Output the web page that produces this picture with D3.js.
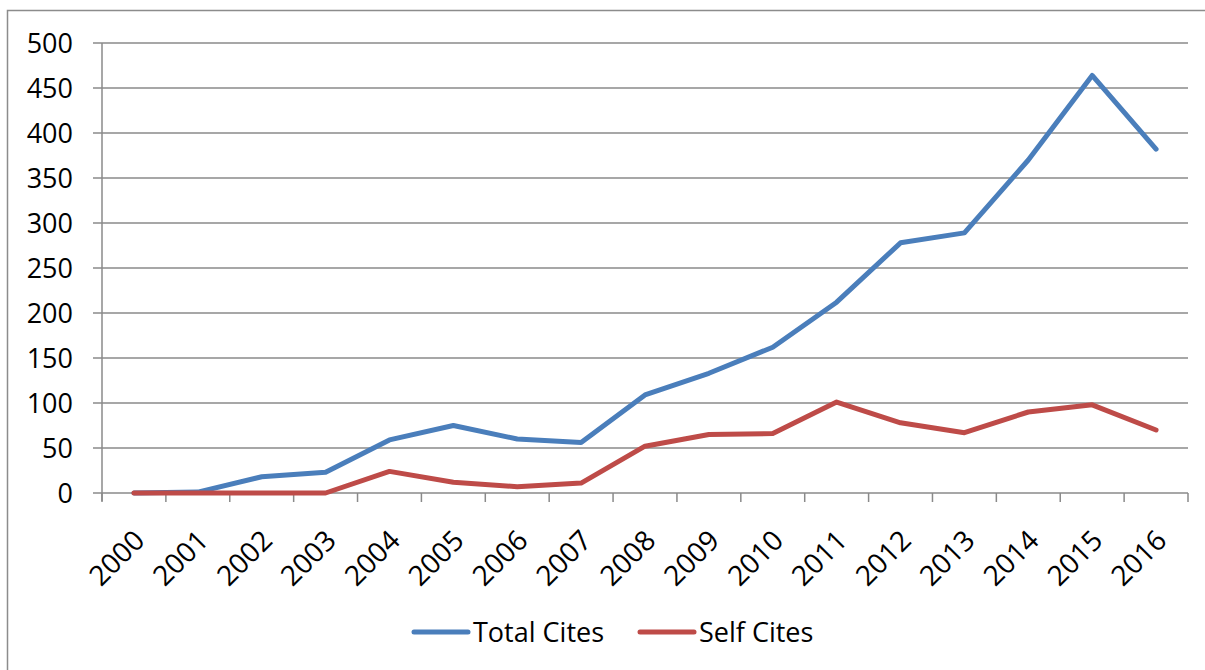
<!DOCTYPE html>
<html>
<head>
<meta charset="utf-8">
<script src="https://cdn.jsdelivr.net/npm/d3@7"></script>
<style>
  body { margin: 0; background: #fff; }
  svg text { font-family: "Open Sans", "Noto Sans", sans-serif; fill: #000; }
</style>
</head>
<body>
<script>
'use strict';

// data
const years = ['2000', '2001', '2002', '2003', '2004', '2005', '2006', '2007', '2008',
    '2009', '2010', '2011', '2012', '2013', '2014', '2015', '2016'];
const totalCites = [0, 1, 18, 23, 59, 75, 60, 56, 109, 133, 162, 212, 278, 289, 370, 464, 382];
const selfCites = [0, 0, 0, 0, 24, 12, 7, 11, 52, 65, 66, 101, 78, 67, 90, 98, 70];
const yTicks = [0, 50, 100, 150, 200, 250, 300, 350, 400, 450, 500];
const seriesNames = ['Total Cites', 'Self Cites'];
const seriesColors = ['#4A7EBB', '#BE4B48'];

(function () {
    const W = 1205, H = 670;
    const left = 102, right = 1188, top = 43, bottom = 493;
    const fontSize = '27px';

    const svg = d3.select('body').append('svg')
        .attr('width', W)
        .attr('height', H);

    // outer frame
    svg.append('rect')
        .attr('x', 7.5).attr('y', 10.5)
        .attr('width', W + 10).attr('height', H + 10)
        .attr('fill', 'none')
        .attr('stroke', '#8c8c8c')
        .attr('stroke-width', 1.5);

    const x = d3.scaleBand().domain(years).range([left, right]);
    const y = d3.scaleLinear().domain([0, 500]).range([bottom, top]);

    // gridlines
    svg.append('g')
        .selectAll('line')
        .data(yTicks)
        .enter()
        .append('line')
        .attr('x1', left - 9)
        .attr('x2', right)
        .attr('y1', d => y(d))
        .attr('y2', d => y(d))
        .attr('stroke', '#8a8a8a')
        .attr('stroke-width', 1.5);

    // y labels
    svg.append('g')
        .selectAll('text')
        .data(yTicks)
        .enter()
        .append('text')
        .attr('x', 73)
        .attr('y', d => y(d))
        .attr('dy', '0.36em')
        .attr('text-anchor', 'end')
        .style('font-size', fontSize)
        .text(d => d);

    // y axis line
    svg.append('line')
        .attr('x1', left).attr('x2', left)
        .attr('y1', top).attr('y2', bottom + 8)
        .attr('stroke', '#8a8a8a')
        .attr('stroke-width', 1.5);

    // x ticks at category boundaries
    const bounds = years.map(d => x(d)).concat([right]);
    svg.append('g')
        .selectAll('line')
        .data(bounds)
        .enter()
        .append('line')
        .attr('x1', d => d).attr('x2', d => d)
        .attr('y1', bottom).attr('y2', bottom + 9)
        .attr('stroke', '#8a8a8a')
        .attr('stroke-width', 1.5);

    // x labels, rotated
    svg.append('g')
        .selectAll('text')
        .data(years)
        .enter()
        .append('text')
        .attr('transform', d => 'translate(' + (x(d) + x.bandwidth() / 2 - 2) + ',' + (bottom + 35) + ') rotate(-45)')
        .attr('text-anchor', 'end')
        .attr('dy', '0.72em')
        .style('font-size', '28px')
        .text(d => d);

    // lines
    const line = d3.line()
        .x((d, i) => x(years[i]) + x.bandwidth() / 2)
        .y(d => y(d));

    [totalCites, selfCites].forEach(function (vals, k) {
        svg.append('path')
            .datum(vals)
            .attr('d', line)
            .attr('fill', 'none')
            .attr('stroke', seriesColors[k])
            .attr('stroke-width', 5)
            .attr('stroke-linejoin', 'round')
            .attr('stroke-linecap', 'round');
    });

    // legend
    const legendX = [414, 640];
    const legend = svg.append('g')
        .selectAll('g')
        .data(seriesNames)
        .enter()
        .append('g')
        .attr('transform', (d, i) => 'translate(' + legendX[i] + ',632)');
    legend.append('line')
        .attr('x1', 0).attr('x2', 54)
        .attr('stroke', (d, i) => seriesColors[i])
        .attr('stroke-width', 5)
        .attr('stroke-linecap', 'round');
    legend.append('text')
        .attr('x', 59)
        .attr('dy', '0.36em')
        .style('font-size', fontSize)
        .text(d => d);
})();
</script>
</body>
</html>
